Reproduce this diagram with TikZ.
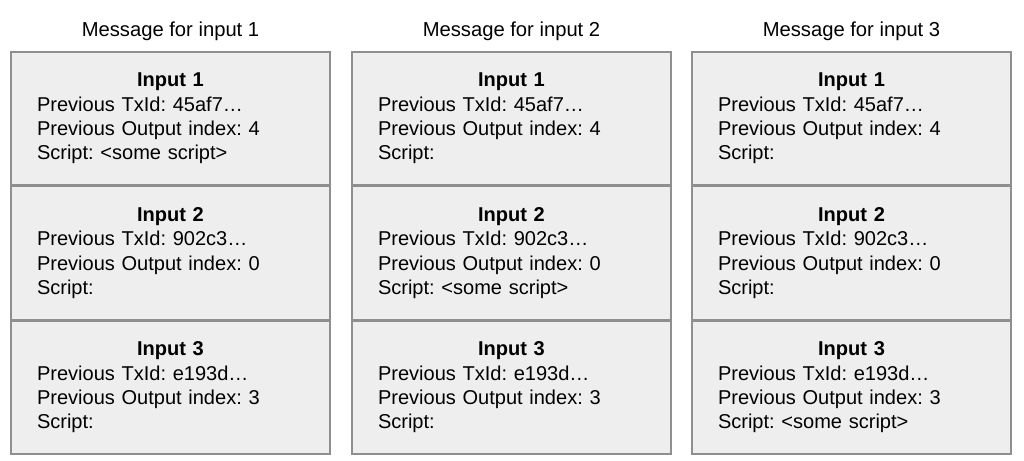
\documentclass[tikz,border=0pt]{standalone}
\usepackage{fontspec}
\setmainfont{Liberation Sans}
\usetikzlibrary{positioning}

\definecolor{cellfill}{HTML}{EEEEEE}
\definecolor{cellline}{HTML}{8F8F8F}

\newcommand{\inputcell}[4]{\frenchspacing{\centering\bfseries Input #1\par}%
Previous TxId: #2\\Previous Output index: #3\\Script: #4}

\tikzset{
  cell/.style={draw=cellline, fill=cellfill, line width=0.8pt,
    minimum width=6.38cm, minimum height=2.66cm,
    text width=5.34cm, inner xsep=0.52cm, inner ysep=0pt,
    font=\fontsize{11.4}{13.9}\selectfont},
  msgtitle/.style={font=\fontsize{11.5}{13}\selectfont}
}

\begin{document}
\begin{tikzpicture}
		\useasboundingbox (0, 0) rectangle (20.48, -9.2);
		
		% Message for input 1
		\node[cell] (a1) at (3.41, -2.37) {\inputcell{1}{45af7…}{4}{<some script>}};
		\node[cell, below=0pt of a1] (a2) {\inputcell{2}{902c3…}{0}{}};
		\node[cell, below=0pt of a2] (a3) {\inputcell{3}{e193d…}{3}{}};
		\node[msgtitle, above=0.08cm of a1] (ta) {Message for input 1};
		
		% Message for input 2
		\node[cell] (b1) at (10.23, -2.37) {\inputcell{1}{45af7…}{4}{}};
		\node[cell, below=0pt of b1] (b2) {\inputcell{2}{902c3…}{0}{<some script>}};
		\node[cell, below=0pt of b2] (b3) {\inputcell{3}{e193d…}{3}{}};
		\node[msgtitle, above=0.08cm of b1] (tb) {Message for input 2};
		
		% Message for input 3
		\node[cell] (c1) at (17.03, -2.37) {\inputcell{1}{45af7…}{4}{}};
		\node[cell, below=0pt of c1] (c2) {\inputcell{2}{902c3…}{0}{}};
		\node[cell, below=0pt of c2] (c3) {\inputcell{3}{e193d…}{3}{<some script>}};
		\node[msgtitle, above=0.08cm of c1] (tc) {Message for input 3};
	\end{tikzpicture}
\end{document}
